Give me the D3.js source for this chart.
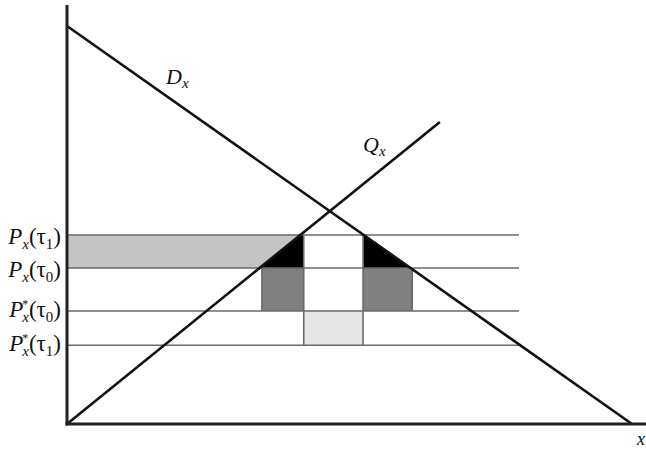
<!DOCTYPE html>
<html><head><meta charset="utf-8">
<script src="https://cdn.jsdelivr.net/npm/d3@7"></script>
<style>body{margin:0;background:#fff}svg{display:block}</style>
</head><body>
<script>
// Data (model units, 0..100 both axes)
const demand = [[0, 100], [100, 0]];          // D_x
const supply = [[0, 0], [66, 75.9]];          // Q_x
const priceNames = ["τ1", "τ0", "τ0", "τ1"];
const priceStar = [false, false, true, true];
const priceLevels = [47.5, 39.2, 28.4, 19.8]; // Px(τ1), Px(τ0), Px*(τ0), Px*(τ1)
const priceLineEnd = 80;
const qLevels = [34.5, 41.9, 52.4, 61.1];     // quantities bounding the rectangles
// regions: [q0, q1, p0, p1, fill]
const rects = [
  [41.9, 52.4, 28.4, 47.5, "#ffffff"],
  [34.5, 41.9, 28.4, 39.2, "#808080"],
  [52.4, 61.1, 28.4, 39.2, "#808080"],
  [41.9, 52.4, 19.8, 28.4, "#e6e6e6"]
];

const W = 646, H = 449;
const x = d3.scaleLinear().domain([0, 100]).range([67, 632]);
const y = d3.scaleLinear().domain([0, 100]).range([424, 26]);
const svg = d3.select("body").append("svg").attr("width", W).attr("height", H);

const supQ = p => supply[1][0] * p / supply[1][1];
const demQ = p => 100 - p;

// light gray area (left of supply between P0 and P1)
svg.append("path")
  .attr("d", d3.line()([[x(0), y(priceLevels[0])], [x(supQ(priceLevels[0])), y(priceLevels[0])],
    [x(supQ(priceLevels[1])), y(priceLevels[1])], [x(0), y(priceLevels[1])]]))
  .attr("fill", "#c4c4c4");

rects.forEach(r => {
  svg.append("rect").attr("x", x(r[0])).attr("y", y(r[3]))
    .attr("width", x(r[1]) - x(r[0])).attr("height", y(r[2]) - y(r[3]))
    .attr("fill", r[4]);
});

// black triangles
svg.append("path")
  .attr("d", d3.line()([[x(supQ(priceLevels[0])), y(priceLevels[0])], [x(qLevels[1]), y(priceLevels[0])],
    [x(qLevels[1]), y(priceLevels[1])], [x(supQ(priceLevels[1])), y(priceLevels[1])]]) + "Z")
  .attr("fill", "#000");
svg.append("path")
  .attr("d", d3.line()([[x(qLevels[2]), y(priceLevels[0])], [x(demQ(priceLevels[0])), y(priceLevels[0])],
    [x(demQ(priceLevels[1])), y(priceLevels[1])], [x(qLevels[2]), y(priceLevels[1])]]) + "Z")
  .attr("fill", "#000");

// horizontal price lines
const gl = svg.append("g").attr("stroke", "#6a6a6a").attr("stroke-width", 1.6);
priceLevels.forEach(p => {
  gl.append("line").attr("x1", x(0)).attr("x2", x(priceLineEnd)).attr("y1", y(p)).attr("y2", y(p));
});
// vertical lines
gl.append("line").attr("x1", x(qLevels[1])).attr("x2", x(qLevels[1])).attr("y1", y(priceLevels[0])).attr("y2", y(priceLevels[3]));
gl.append("line").attr("x1", x(qLevels[2])).attr("x2", x(qLevels[2])).attr("y1", y(priceLevels[0])).attr("y2", y(priceLevels[3]));
gl.append("line").attr("x1", x(qLevels[0])).attr("x2", x(qLevels[0])).attr("y1", y(priceLevels[1])).attr("y2", y(priceLevels[2]));
gl.append("line").attr("x1", x(qLevels[3])).attr("x2", x(qLevels[3])).attr("y1", y(priceLevels[1])).attr("y2", y(priceLevels[2]));

// demand & supply
const line = d3.line().x(d => x(d[0])).y(d => y(d[1]));
svg.append("path").attr("d", line(demand)).attr("stroke", "#111").attr("stroke-width", 2.6).attr("fill", "none");
svg.append("path").attr("d", line(supply)).attr("stroke", "#111").attr("stroke-width", 2.6).attr("fill", "none");

// axes
svg.append("line").attr("x1", x(0)).attr("x2", x(0)).attr("y1", 5).attr("y2", y(0) + 1.5)
  .attr("stroke", "#222").attr("stroke-width", 3);
svg.append("line").attr("x1", x(0) - 1.5).attr("x2", 646).attr("y1", y(0)).attr("y2", y(0))
  .attr("stroke", "#222").attr("stroke-width", 3);

// labels
const font = "'Liberation Serif', 'DejaVu Serif', serif";
priceLevels.forEach((p, i) => {
  const t = svg.append("text").attr("x", 61).attr("y", y(p) + (i < 2 ? 9 : 6))
    .attr("text-anchor", "end").attr("font-family", font).attr("font-size", 23).attr("fill", "#111");
  t.append("tspan").text("P").attr("font-style", "italic");
  if (priceStar[i]) {
    t.append("tspan").text("*").attr("font-size", 12).attr("dy", -9).attr("dx", -1);
    t.append("tspan").text("x").attr("font-style", "italic").attr("font-size", 15).attr("dy", 14).attr("dx", -6);
  } else {
    t.append("tspan").text("x").attr("font-style", "italic").attr("font-size", 15).attr("dy", 5);
  }
  t.append("tspan").text("(τ").attr("font-size", 23).attr("dy", -5);
  t.append("tspan").text(priceNames[i].slice(1)).attr("font-size", 15).attr("dy", 5);
  t.append("tspan").text(")").attr("font-size", 23).attr("dy", -5);
});

function curveLabel(px, py, main, subTxt) {
  const t = svg.append("text").attr("x", px).attr("y", py).attr("font-family", font)
    .attr("font-size", 22).attr("font-style", "italic").attr("fill", "#111");
  t.append("tspan").text(main);
  t.append("tspan").text(subTxt).attr("font-size", 15).attr("dy", 4);
}
curveLabel(166, 84, "D", "x");
curveLabel(363, 152, "Q", "x");
svg.append("text").attr("x", 637).attr("y", 445).attr("font-family", font).attr("font-size", 18)
  .attr("font-style", "italic").attr("fill", "#111").text("x");
</script>
</body></html>
